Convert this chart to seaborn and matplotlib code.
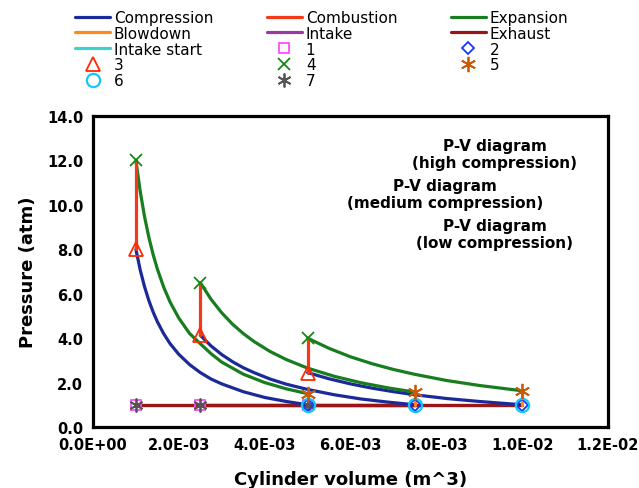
import matplotlib
matplotlib.use("Agg")
import matplotlib.pyplot as plt
import seaborn as sns
import numpy as np
from matplotlib.lines import Line2D
from matplotlib.ticker import FuncFormatter, MultipleLocator

# ---------------- data (volume in m^3, pressure in atm) ----------------
# high compression cycle (V 1e-3 .. 5e-3)
v_high = [1.0e-3, 1.1e-3, 1.2e-3, 1.3e-3, 1.4e-3, 1.5e-3, 1.65e-3, 1.8e-3, 2.0e-3,
          2.25e-3, 2.5e-3, 2.75e-3, 3.0e-3, 3.5e-3, 4.0e-3, 4.5e-3, 5.0e-3]
comp_high = [8.00, 7.07, 6.32, 5.70, 5.18, 4.74, 4.19, 3.74, 3.27,
             2.81, 2.45, 2.16, 1.94, 1.59, 1.33, 1.15, 1.00]
exp_high = [12.0, 10.61, 9.48, 8.55, 7.77, 7.11, 6.28, 5.61, 4.90,
            4.21, 3.75, 3.30, 2.92, 2.38, 2.00, 1.72, 1.50]

# medium compression cycle (V 2.5e-3 .. 7.5e-3)
v_med = [2.5e-3, 2.75e-3, 3.0e-3, 3.25e-3, 3.5e-3, 3.75e-3, 4.125e-3, 4.5e-3, 5.0e-3,
         5.625e-3, 6.25e-3, 6.875e-3, 7.5e-3]
comp_med = [4.13, 3.65, 3.26, 2.94, 2.67, 2.45, 2.16, 1.93, 1.69, 1.45, 1.26, 1.12, 1.00]
exp_med = [6.50, 5.75, 5.14, 4.63, 4.21, 3.85, 3.40, 3.04, 2.65, 2.28, 1.99, 1.76, 1.57]

# low compression cycle (V 5e-3 .. 1e-2)
v_low = [5.0e-3, 5.5e-3, 6.0e-3, 6.5e-3, 7.0e-3, 7.5e-3, 8.25e-3, 9.0e-3, 1.0e-2]
comp_low = [2.45, 2.17, 1.94, 1.75, 1.59, 1.45, 1.28, 1.15, 1.00]
exp_low = [4.00, 3.54, 3.16, 2.85, 2.59, 2.37, 2.09, 1.87, 1.63]

# state points per cycle: [high, medium, low]
v_tdc = [1.0e-3, 2.5e-3, 5.0e-3]
v_bdc = [5.0e-3, 7.5e-3, 1.0e-2]
p_atm = [1.0, 1.0, 1.0]
p3 = [8.00, 4.13, 2.45]     # end of compression
p4 = [12.0, 6.50, 4.00]     # end of combustion
p5 = [1.50, 1.57, 1.63]     # end of expansion

legend_labels = ["Compression", "Combustion", "Expansion", "Blowdown", "Intake",
                 "Exhaust", "Intake start", "1", "2", "3", "4", "5", "6", "7"]
titles = ["P-V diagram\n(high compression)", "P-V diagram\n(medium compression)",
          "P-V diagram\n(low compression)"]

# ---------------- styles ----------------
c_comp = "#1b2a98"
c_comb = "#f2391c"
c_exp = "#177d1e"
c_blow = "#ff8a1a"
c_int = "#9b3aa0"
c_exh = "#9a1616"
c_ist = "#3fd0d0"
c_m1 = "#ff4cff"
c_m2 = "#1536ff"
c_m3 = "#ff2a00"
c_m4 = "#148a14"
c_m5 = "#c85a0a"
c_m6 = "#10c8ff"
c_m7 = "#555555"
ASTER = (6, 2, 0)

sns.set_style("white")
plt.rcParams["font.family"] = ["DejaVu Sans"]
plt.rcParams["text.color"] = "black"
plt.rcParams["axes.labelcolor"] = "black"

fig = plt.figure(figsize=(6.39, 4.89), dpi=100)
ax = fig.add_axes([93 / 639, 1 - 428 / 489, (608 - 93) / 639, (428 - 117) / 489])

lw = 2.3


def line(x, y, color, z=2, **kw):
    sns.lineplot(x=x, y=y, sort=False, estimator=None, color=color,
                 linewidth=lw, ax=ax, legend=False, zorder=z, **kw)


def marks(x, y, marker, color, ms, z=5, mew=1.3):
    sns.lineplot(x=x, y=y, sort=False, estimator=None, linestyle="none",
                 marker=marker, markersize=ms, markerfacecolor="none",
                 markeredgecolor=color, markeredgewidth=mew, color=color,
                 ax=ax, legend=False, zorder=z)


cycles = [(v_high, comp_high, exp_high), (v_med, comp_med, exp_med), (v_low, comp_low, exp_low)]

for i, (vv, cp, ep) in enumerate(cycles):
    # intake (TDC -> BDC), exhaust (BDC -> TDC)
    line([v_tdc[i], v_bdc[i]], [p_atm[i], p_atm[i]], c_int, z=2)
    line([v_bdc[i], v_tdc[i]], [p_atm[i], p_atm[i]], c_exh, z=2.1)
    # intake start (zero-length)
    line([v_tdc[i], v_tdc[i]], [p_atm[i], p_atm[i]], c_ist, z=2.2)
    # compression and expansion
    line(vv, cp, c_comp, z=2.3)
    line(vv, ep, c_exp, z=2.4)
    # combustion (vertical at TDC)
    line([v_tdc[i], v_tdc[i]], [p3[i], p4[i]], c_comb, z=2.5)
    # blowdown (vertical at BDC)
    line([v_bdc[i], v_bdc[i]], [p5[i], p_atm[i]], c_blow, z=2.6)

marks(v_tdc, p_atm, "s", c_m1, 7.5)
marks(v_tdc, p_atm, ASTER, c_m7, 10)
marks(v_bdc, p_atm, "D", c_m2, 6.5)
marks(v_bdc, p_atm, "o", c_m6, 9.5, mew=1.6)
marks(v_tdc, p3, "^", c_m3, 10)
marks(v_tdc, p4, "x", c_m4, 9)
marks(v_bdc, p5, ASTER, c_m5, 11)

# ---------------- axes ----------------
ax.set_xlim(0, 1.2e-2)
ax.set_ylim(0, 14)
ax.xaxis.set_major_locator(MultipleLocator(2e-3))
ax.yaxis.set_major_locator(MultipleLocator(2.0))
ax.xaxis.set_major_formatter(FuncFormatter(lambda v, p: f"{v:.1E}"))
ax.yaxis.set_major_formatter(FuncFormatter(lambda v, p: f"{v:.1f}"))
ax.tick_params(axis="both", direction="in", length=5, width=2, labelsize=10.5,
               colors="black", pad=7)
for lab in ax.get_xticklabels() + ax.get_yticklabels():
    lab.set_fontweight("bold")
for s in ax.spines.values():
    s.set_linewidth(2.3)
    s.set_color("black")
ax.set_xlabel("Cylinder volume (m^3)", fontsize=13, fontweight="heavy",
              labelpad=13, color="black")
ax.set_ylabel("Pressure (atm)", fontsize=13, fontweight="heavy",
              labelpad=7, color="black")
ax.grid(False)

# ---------------- legend ----------------
def proxy_line(c):
    return Line2D([], [], color=c, linewidth=lw)


def proxy_mark(m, c, ms, mew=1.3):
    return Line2D([], [], linestyle="none", marker=m, markersize=ms,
                  markerfacecolor="none", markeredgecolor=c, markeredgewidth=mew)


handles = {
    "Compression": proxy_line(c_comp), "Combustion": proxy_line(c_comb),
    "Expansion": proxy_line(c_exp), "Blowdown": proxy_line(c_blow),
    "Intake": proxy_line(c_int), "Exhaust": proxy_line(c_exh),
    "Intake start": proxy_line(c_ist),
    "1": proxy_mark("s", c_m1, 7.5), "2": proxy_mark("D", c_m2, 6.5),
    "3": proxy_mark("^", c_m3, 10), "4": proxy_mark("x", c_m4, 9),
    "5": proxy_mark(ASTER, c_m5, 11), "6": proxy_mark("o", c_m6, 9.5, 1.6),
    "7": proxy_mark(ASTER, c_m7, 10),
}
# matplotlib fills legend columns first; reorder so rows read like the reference
ncol = 3
nrow = int(np.ceil(len(legend_labels) / ncol))
order = []
for c in range(ncol):
    for r in range(nrow):
        k = r * ncol + c
        if k < len(legend_labels):
            order.append(legend_labels[k])

leg = fig.legend([handles[k] for k in order], order, ncol=ncol,
                 loc="upper left", bbox_to_anchor=(75 / 639, 1 - 11 / 489),
                 frameon=False, fontsize=11, handlelength=2.3,
                 handletextpad=0.25, columnspacing=3.5, labelspacing=0.05,
                 borderpad=0, borderaxespad=0)
for t in leg.get_texts():
    t.set_color("black")

# ---------------- titles of the three overlaid charts ----------------
fig.text(495 / 639, 1 - 155 / 489, titles[0], ha="center", va="center",
         fontsize=11, fontweight="bold", linespacing=1.15, color="black")
fig.text(445 / 639, 1 - 195 / 489, titles[1], ha="center", va="center",
         fontsize=11, fontweight="bold", linespacing=1.15, color="black")
fig.text(495 / 639, 1 - 235 / 489, titles[2], ha="center", va="center",
         fontsize=11, fontweight="bold", linespacing=1.15, color="black")

fig.savefig("out.png", dpi=100)
